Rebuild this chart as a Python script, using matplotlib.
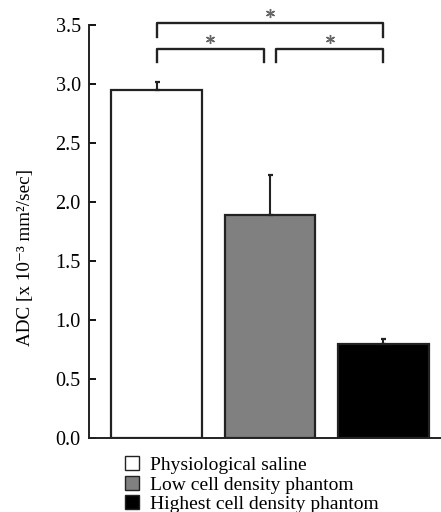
import matplotlib.pyplot as plt
from matplotlib.patches import Patch

plt.rcParams["font.family"] = ["Liberation Serif", "DejaVu Serif"]

groups = ["Physiological saline", "Low cell density phantom", "Highest cell density phantom"]
adc_mean = [2.95, 1.89, 0.80]
adc_err = [0.07, 0.34, 0.04]
bar_colors = ["white", "#808080", "black"]

# significance brackets: (left bar, right bar, bracket height, leg bottom, star height)
brackets = [
    (0, 2, 3.52, 3.40, 3.60),
    (0, 0.95, 3.30, 3.19, 3.38),
    (1.05, 2, 3.30, 3.19, 3.38),
]

fig = plt.figure(figsize=(4.41, 5.12), dpi=100)
ax = fig.add_axes([0.2018, 0.1445, 0.7982, 0.8066])

x = list(range(len(groups)))
ax.bar(x, adc_mean, width=0.8, color=bar_colors, edgecolor="#222222", linewidth=1.6, zorder=2)
ax.errorbar(
    x, adc_mean,
    yerr=[[0] * len(adc_err), adc_err],
    fmt="none", ecolor="#222222", elinewidth=1.5, capsize=1.8, capthick=1.6, zorder=3,
)

for left, right, top, bottom, star in brackets:
    ax.plot([left, left, right, right], [bottom, top, top, bottom],
            color="#222222", linewidth=1.7, clip_on=False)
    ax.plot([(left + right) / 2], [star], marker=(6, 2, 0), markersize=6.5,
            markeredgewidth=1.0, color="#666666", clip_on=False)

ax.set_xlim(-0.595, 2.507)
ax.set_ylim(0, 3.5)
ax.set_yticks([0.0, 0.5, 1.0, 1.5, 2.0, 2.5, 3.0, 3.5])
ax.set_yticklabels([f"{v:.1f}" for v in ax.get_yticks()], fontsize=14.5)
ax.set_xticks([])
ax.tick_params(axis="y", direction="in", length=5, width=1.3, pad=6)
for side in ["top", "right"]:
    ax.spines[side].set_visible(False)
for side in ["left", "bottom"]:
    ax.spines[side].set_linewidth(1.4)
    ax.spines[side].set_color("#222222")
ax.set_ylabel("ADC [x 10\u207b\u00b3 mm\u00b2/sec]", fontsize=13.8)
ax.yaxis.set_label_coords(-0.155, 0.438)

handles = [Patch(facecolor=c, edgecolor="#222222", linewidth=1.0) for c in bar_colors]
fig.legend(
    handles, groups, loc="upper left", bbox_to_anchor=(0.283, 0.109),
    frameon=False, fontsize=14.0, handlelength=0.75, handleheight=0.75,
    handletextpad=0.55, labelspacing=0.08, borderpad=0, borderaxespad=0,
)

fig.savefig("out.png", dpi=100)
